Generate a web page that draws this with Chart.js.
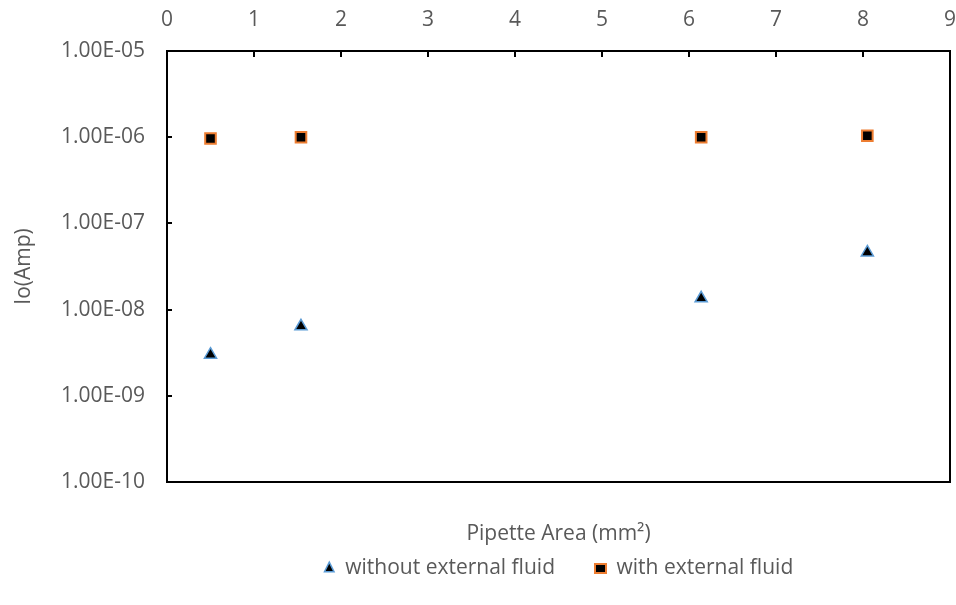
<!DOCTYPE html>
<html>
<head>
<meta charset="utf-8">
<script src="https://cdn.jsdelivr.net/npm/chart.js@4/dist/chart.umd.min.js"></script>
<style>
  html, body { margin: 0; padding: 0; background: #ffffff; }
  #wrap { width: 956px; height: 605px; }
</style>
</head>
<body>
<div id="wrap"><canvas id="c" width="956" height="605"></canvas></div>
<script>
const pipetteArea = [0.5, 1.54, 6.14, 8.05];
const withoutFluid = [3.0e-9, 6.4e-9, 1.35e-8, 4.6e-8];
const withFluid = [0.966e-6, 1.0e-6, 1.0e-6, 1.04e-6];
const xTicks = [0, 1, 2, 3, 4, 5, 6, 7, 8, 9];
const yTicks = [1e-10, 1e-9, 1e-8, 1e-7, 1e-6, 1e-5];
const seriesNames = ['without external fluid', 'with external fluid'];

const FONT = "'Open Sans', 'Noto Sans', sans-serif";
const TXT = '#595959';
const FS = 21;

function fmtExp(v) {
  const e = Math.round(Math.log10(v));
  const m = v / Math.pow(10, e);
  const sign = e < 0 ? '-' : '+';
  const ae = Math.abs(e);
  return m.toFixed(2) + 'E' + sign + (ae < 10 ? '0' + ae : '' + ae);
}

const framePlugin = {
  id: 'frame',
  afterDraw(chart) {
    const {ctx, chartArea: a, scales} = chart;
    ctx.save();
    ctx.strokeStyle = '#000000';
    ctx.lineWidth = 2;
    ctx.beginPath();
    xTicks.forEach(t => {
      const px = Math.round(scales.x.getPixelForValue(t));
      ctx.moveTo(px, a.top);
      ctx.lineTo(px, a.top + 6);
    });
    yTicks.forEach(t => {
      const py = Math.round(scales.y.getPixelForValue(t));
      ctx.moveTo(a.left, py);
      ctx.lineTo(a.left + 5, py);
    });
    ctx.stroke();
    ctx.strokeRect(a.left, a.top, a.right - a.left, a.bottom - a.top);
    ctx.restore();
  }
};

function noHPad(s) { s.paddingLeft = 0; s.paddingRight = 0; }

new Chart(document.getElementById('c'), {
  type: 'scatter',
  data: {
    datasets: [
      {
        label: seriesNames[0],
        data: pipetteArea.map((x, i) => ({x: x, y: withoutFluid[i]})),
        pointStyle: 'triangle',
        pointRadius: 7,
        pointHoverRadius: 7,
        backgroundColor: '#000000',
        borderColor: '#5B9BD5',
        borderWidth: 1.5
      },
      {
        label: seriesNames[1],
        data: pipetteArea.map((x, i) => ({x: x, y: withFluid[i]})),
        pointStyle: 'rect',
        pointRadius: 7.5,
        pointHoverRadius: 7.5,
        backgroundColor: '#000000',
        borderColor: '#ED7D31',
        borderWidth: 2
      }
    ]
  },
  options: {
    responsive: false,
    animation: false,
    layout: { autoPadding: false, padding: { left: 0, right: 6, top: 0, bottom: 16 } },
    scales: {
      x: {
        type: 'linear',
        position: 'top',
        min: 0, max: 9,
        afterBuildTicks: s => { s.ticks = xTicks.map(v => ({value: v})); },
        afterFit: s => { s.height = 51; noHPad(s); },
        grid: { display: false, drawTicks: false },
        border: { display: false },
        ticks: { color: TXT, font: { family: FONT, size: FS }, padding: 18, maxRotation: 0 }
      },
      x2: {
        type: 'linear',
        position: 'bottom',
        min: 0, max: 9,
        afterFit: s => { s.height = 36; noHPad(s); },
        grid: { display: false, drawTicks: false },
        border: { display: false },
        ticks: { display: false },
        title: { display: true, text: 'Pipette Area (mm²)', color: TXT, font: { family: FONT, size: FS }, padding: { top: 0, bottom: -29 } }
      },
      y: {
        type: 'logarithmic',
        position: 'left',
        min: 1e-10, max: 1e-5,
        afterBuildTicks: s => { s.ticks = yTicks.map(v => ({value: v})); },
        afterFit: s => { s.width = 167; },
        grid: { display: false, drawTicks: false },
        border: { display: false },
        ticks: { color: TXT, font: { family: FONT, size: FS }, padding: 22, callback: v => fmtExp(v) },
        title: { display: true, text: 'Io(Amp)', color: TXT, font: { family: FONT, size: FS }, padding: { top: 11, bottom: 0 } }
      }
    },
    plugins: {
      legend: {
        position: 'bottom',
        fullSize: false,
        labels: {
          usePointStyle: true,
          pointStyleWidth: 11,
          boxHeight: 9,
          color: TXT,
          font: { family: FONT, size: FS },
          padding: 40
        }
      },
      tooltip: { enabled: false }
    }
  },
  plugins: [framePlugin]
});
</script>
</body>
</html>
